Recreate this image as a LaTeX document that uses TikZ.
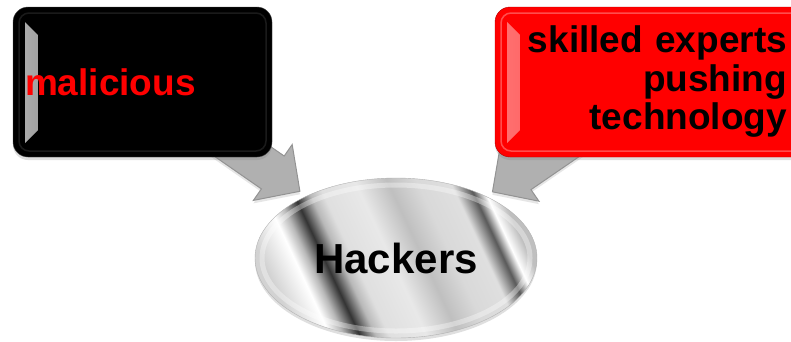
\documentclass[tikz,border=0pt]{standalone}
\usepackage{fontspec}
\setmainfont{Liberation Sans}
\usetikzlibrary{shapes.geometric,calc,shadows,backgrounds}

\pgfdeclarehorizontalshading{chrome}{100bp}{color(0bp)=(gray!35); color(25bp)=(gray!35);
  color(31bp)=(white); color(33.5bp)=(gray!55); color(36.5bp)=(black!80); color(39.5bp)=(gray!55);
  color(42bp)=(gray!25); color(49bp)=(gray!18); color(55bp)=(gray!50); color(60.5bp)=(gray!30);
  color(66.7bp)=(gray!25); color(70bp)=(black!65); color(72.3bp)=(white); color(75bp)=(gray!50);
  color(100bp)=(gray!50)}

\tikzset{
  box/.style={rectangle, rounded corners=15pt, minimum height=150pt, inner ysep=0pt,
    font=\bfseries\fontsize{37}{38.5}\selectfont,
    drop shadow={opacity=.25, shadow xshift=0pt, shadow yshift=-3pt}},
  bevel/.style={draw=white, fill=none, opacity=.3, line width=1.5pt, rounded corners=10pt},
  blockarrow/.style={fill=gray!62, draw=gray!85, line width=1pt, line join=miter},
}
% shaded left face of a box, drawn inside its path picture
\newcommand{\leftface}[2]{%
    \shade[draw=none, sharp corners, left color=#1, right color=#2]
        ($(path picture bounding box.north west)+(12,15)$) -- ++(0,121) -- ++(13,-13)
        -- ++(0,-95) -- cycle;
    \draw[bevel] ($(path picture bounding box.north west)+(6,6)$)
        rectangle ($(path picture bounding box.south east)+(-6,-6)$);}

\begin{document}
\begin{tikzpicture}[x=1pt, y=-1pt]
    \useasboundingbox (0,0) rectangle (791,341);
    \clip (0,0) rectangle (791,341);
    % boxes
    \node[box, fill=black, draw=black!70, text=red, text width=235pt, inner xsep=12pt,
        align=left, bevel/.append style={opacity=.1},
        path picture={\leftface{gray!60}{black}}]
        (malbox) at (142.5,82) {malicious};
    \node[box, fill=red, draw=red!70!black, text width=269pt, inner xsep=23pt,
        align=right, path picture={\leftface{red!55!white}{red}}]
        (redbox) at (652.5,82) {skilled experts\\pushing\\technology};
    % centre
    \node[ellipse, minimum width=282pt, minimum height=160pt, inner sep=0pt,
        shade, shading=chrome, shading angle=25, draw=gray!60,
        font=\bfseries\fontsize{42}{44}\selectfont,
        drop shadow={opacity=.25, shadow xshift=0pt, shadow yshift=-3pt},
        path picture={\draw[white, opacity=.35, line width=5pt]
            (path picture bounding box.center) ellipse [x radius=134pt, y radius=73pt];}]
        (hack) at (396,258) {Hackers};
    % block arrows
    \begin{pgfonlayer}{background}
        \foreach \b in {malbox,redbox}{
            \coordinate (tip) at ($(hack.center)!117pt!(\b.center)$);
            \coordinate (base) at ($(tip)!33pt!(\b.center)$);
            \draw[blockarrow, drop shadow={opacity=.2, shadow xshift=0pt, shadow yshift=-3pt}]
                (tip) -- ($(base)!34pt!90:(tip)$) -- ($(base)!20pt!90:(tip)$)
                -- ($(\b.center)!20pt!90:(tip)$) -- ($(\b.center)!20pt!-90:(tip)$)
                -- ($(base)!20pt!-90:(tip)$) -- ($(base)!34pt!-90:(tip)$) -- cycle;
        }
    \end{pgfonlayer}
\end{tikzpicture}
\end{document}
